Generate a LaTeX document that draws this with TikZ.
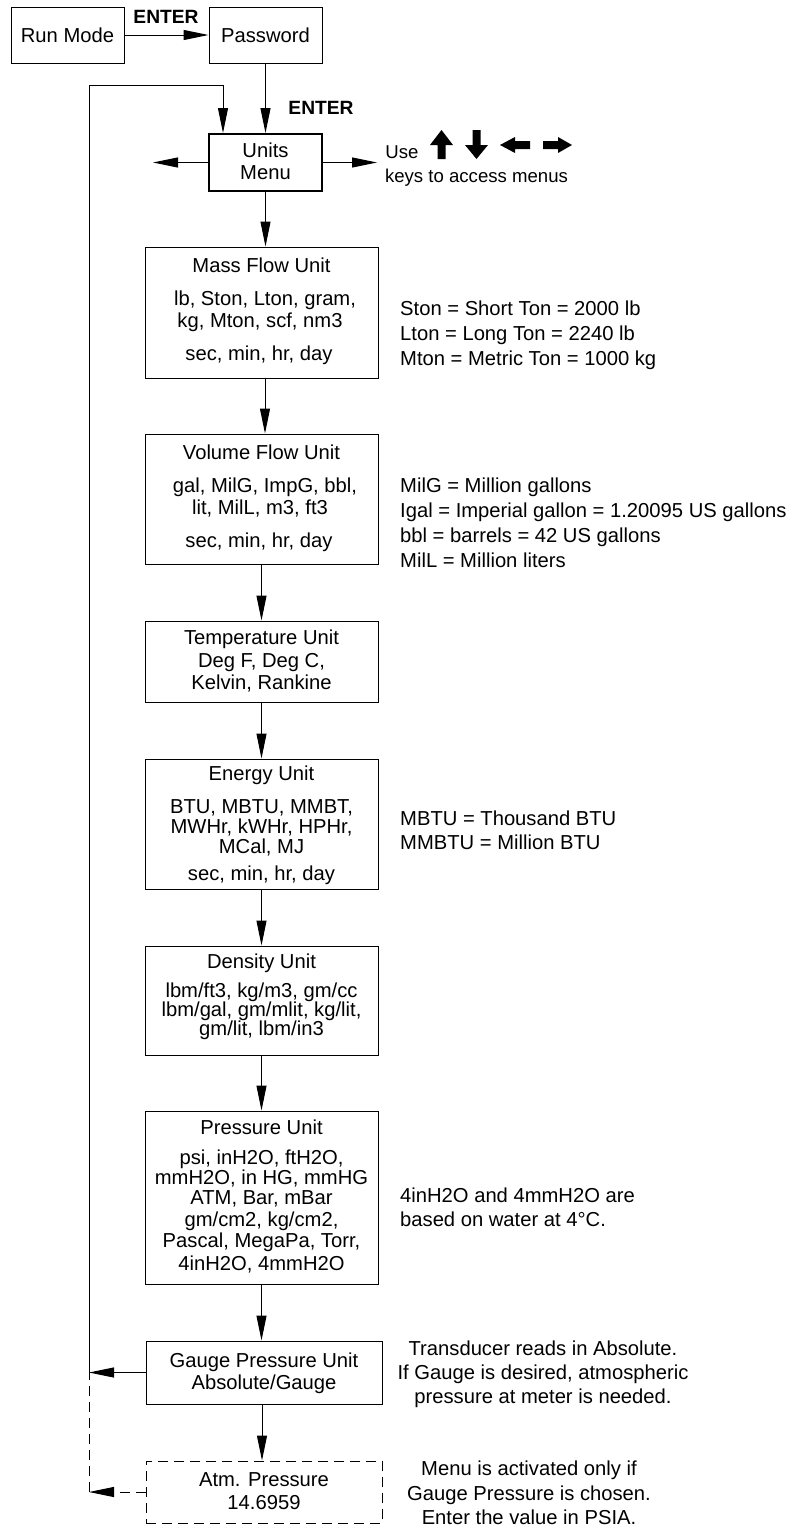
\documentclass[tikz,border=0pt]{standalone}
\usepackage{fontspec}
\setmainfont{Liberation Sans}
\usetikzlibrary{arrows.meta}
\begin{document}
\begin{tikzpicture}[x=1pt,y=-1pt,
  every node/.style={font=\fontsize{20.2}{24}\selectfont, inner sep=0pt},
  box/.style={draw, line width=1pt},
  dbox/.style={draw, line width=1pt, dash pattern=on 10pt off 6pt},
  ln/.style={text height=14.5pt, text depth=0pt, anchor=center},
  note/.style={text height=14.5pt, text depth=0pt, anchor=west},
  cnote/.style={text height=14.5pt, text depth=0pt, anchor=center},
  small/.style={font=\fontsize{18.6}{22}\selectfont, text height=13.3pt, text depth=0pt, anchor=center},
  arr/.style={-{Triangle[length=25pt,width=10pt]}, line width=1pt},
  dline/.style={line width=1pt, dash pattern=on 10pt off 6pt}]
\useasboundingbox (0,0) rectangle (792,1526);
\fill[white] (0,0) rectangle (792,1526);

% top boxes
\node[box, minimum width=113pt, minimum height=56pt] (run) at (67.5,35) {Run Mode};
\node[box, minimum width=113pt, minimum height=56pt] (pw) at (265.5,35) {Password};
\node[font=\bfseries\fontsize{19.2}{23}\selectfont, ln] (enter1) at (166,16) {ENTER};
\node[font=\bfseries\fontsize{19.2}{23}\selectfont, ln] (enter2) at (321,107) {ENTER};

% units menu
\node[draw, line width=2pt, minimum width=113pt, minimum height=57pt] (units) at (265.5,162.5) {};
\node[ln] (units1) at (265.5,150) {Units};
\node[ln] (units2) at (265.5,172) {Menu};
\coordinate (uleft) at (153,162.5);
\coordinate (uright) at (377,162.5);
\node[small] (use) at (402,152) {Use};
\node[small] (keys) at (476.5,176) {keys to access menus};

% arrow key icons
\fill (430,145) -- (441.5,130) -- (453,145) -- (445.5,145) -- (445.5,159) -- (437.5,159) -- (437.5,145) -- cycle;
\fill (465,145) -- (476.5,159) -- (488,145) -- (480.5,145) -- (480.5,130) -- (472.5,130) -- (472.5,145) -- cycle;
\fill (500,145) -- (515,137) -- (515,141) -- (530,141) -- (530,149) -- (515,149) -- (515,153) -- cycle;
\fill (572,145) -- (558,137) -- (558,141) -- (543,141) -- (543,149) -- (558,149) -- (558,153) -- cycle;

% mass flow
\node[box, minimum width=233pt, minimum height=131pt] (mass) at (261.5,312.5) {};
\node[ln] (mass1) at (261.5,265) {Mass Flow Unit};
\node[ln] (mass2) at (265,298) {lb, Ston, Lton, gram,};
\node[ln] (mass3) at (260,320) {kg, Mton, scf, nm3};
\node[ln] (mass4) at (259,353) {sec, min, hr, day};
\node[note] (n1) at (400,308) {Ston = Short Ton = 2000 lb};
\node[note] (n2) at (400,333) {Lton = Long Ton = 2240 lb};
\node[note] (n3) at (400,358) {Mton = Metric Ton = 1000 kg};

% volume flow
\node[box, minimum width=233pt, minimum height=130pt] (vol) at (261.5,499) {};
\node[ln] (vol1) at (261.5,452) {Volume Flow Unit};
\node[ln] (vol2) at (265,485) {gal, MilG, ImpG, bbl,};
\node[ln] (vol3) at (260,507) {lit, MilL, m3, ft3};
\node[ln] (vol4) at (259,540) {sec, min, hr, day};
\node[note] (n4) at (400,485) {MilG = Million gallons};
\node[note] (n5) at (400,510) {Igal = Imperial gallon = 1.20095 US gallons};
\node[note] (n6) at (400,535) {bbl = barrels = 42 US gallons};
\node[note] (n7) at (400,560) {MilL = Million liters};

% temperature
\node[box, minimum width=233pt, minimum height=81pt] (temp) at (261.5,661.5) {};
\node[ln] (temp1) at (261.5,637) {Temperature Unit};
\node[ln] (temp2) at (261.5,660) {Deg F, Deg C,};
\node[ln] (temp3) at (261.5,682) {Kelvin, Rankine};

% energy
\node[box, minimum width=233pt, minimum height=130pt] (energy) at (261.5,824) {};
\node[ln] (en1) at (261.5,773) {Energy Unit};
\node[ln] (en2) at (261.5,806) {BTU, MBTU, MMBT,};
\node[ln] (en3) at (261.5,826) {MWHr, kWHr, HPHr,};
\node[ln] (en4) at (261.5,846) {MCal, MJ};
\node[ln] (en5) at (261.5,873) {sec, min, hr, day};
\node[note] (n8) at (400,818) {MBTU = Thousand BTU};
\node[note] (n9) at (400,842) {MMBTU = Million BTU};

% density
\node[box, minimum width=233pt, minimum height=109pt] (dens) at (261.5,1000.5) {};
\node[ln] (de1) at (261.5,961) {Density Unit};
\node[ln] (de2) at (261.5,990) {lbm/ft3, kg/m3, gm/cc};
\node[ln] (de3) at (261.5,1009) {lbm/gal, gm/mlit, kg/lit,};
\node[ln] (de4) at (261.5,1028) {gm/lit, lbm/in3};

% pressure
\node[box, minimum width=233pt, minimum height=173pt] (pres) at (261.5,1197.5) {};
\node[ln] (pr1) at (261.5,1127) {Pressure Unit};
\node[ln] (pr2) at (261.5,1157) {psi, inH2O, ftH2O,};
\node[ln] (pr3) at (261.5,1177) {mmH2O, in HG, mmHG};
\node[ln] (pr4) at (261.5,1197) {ATM, Bar, mBar};
\node[ln] (pr5) at (261.5,1219) {gm/cm2, kg/cm2,};
\node[ln] (pr6) at (261.5,1240) {Pascal, MegaPa, Torr,};
\node[ln] (pr7) at (261.5,1263) {4inH2O, 4mmH2O};
\node[note] (n10) at (400,1195) {4inH2O and 4mmH2O are};
\node[note] (n11) at (400,1219) {based on water at 4°C.};

% gauge
\node[box, minimum width=236pt, minimum height=63pt] (gauge) at (264,1372.5) {};
\node[ln] (ga1) at (264,1360) {Gauge Pressure Unit};
\node[ln] (ga2) at (264,1382) {Absolute/Gauge};
\node[cnote] (n12) at (543,1348) {Transducer reads in Absolute.};
\node[cnote] (n13) at (543,1372) {If Gauge is desired, atmospheric};
\node[cnote] (n14) at (543,1396) {pressure at meter is needed.};

% atm
\node[dbox, minimum width=236pt, minimum height=62pt] (atm) at (264,1492) {};
\node[ln] (at1) at (264,1479) {Atm. Pressure};
\node[ln] (at2) at (264,1502) {14.6959};
\node[cnote] (n15) at (529,1468) {Menu is activated only if};
\node[cnote] (n16) at (529,1493) {Gauge Pressure is chosen.};
\node[cnote] (n17) at (529,1517) {Enter the value in PSIA.};

% connectors
\draw[arr] (run.east) -- (pw.west);
\draw[arr] (pw.south) -- (units.north);
\draw[arr] (units.west) -- (uleft);
\draw[arr] (units.east) -- (uright);
\draw[arr] (units.south) -- (units.south |- mass.north);
\draw[arr] ([xshift=3.5pt]mass.south) -- ([xshift=3.5pt]vol.north);
\draw[arr] (vol.south) -- (temp.north);
\draw[arr] (temp.south) -- (energy.north);
\draw[arr] (energy.south) -- (dens.north);
\draw[arr] (dens.south) -- (pres.north);
\draw[arr] (pres.south) -- (pres.south |- gauge.north);
\draw[arr] ([xshift=-2pt]gauge.south) -- ([xshift=-2pt]atm.north);

\coordinate (lg) at (89,1372.5);
\coordinate (la) at (89,1492);
\coordinate (ltop) at (89,85);
\coordinate (ltr) at (223,85);
\draw[arr] (gauge.west) -- (lg);
\draw[arr, dash pattern=on 10pt off 6pt] (atm.west) -- (la);
\draw[dline] (la) -- (lg);
\draw[arr] (lg) -- (ltop) -- (ltr) -- (ltr |- units.north);
\end{tikzpicture}
\end{document}
